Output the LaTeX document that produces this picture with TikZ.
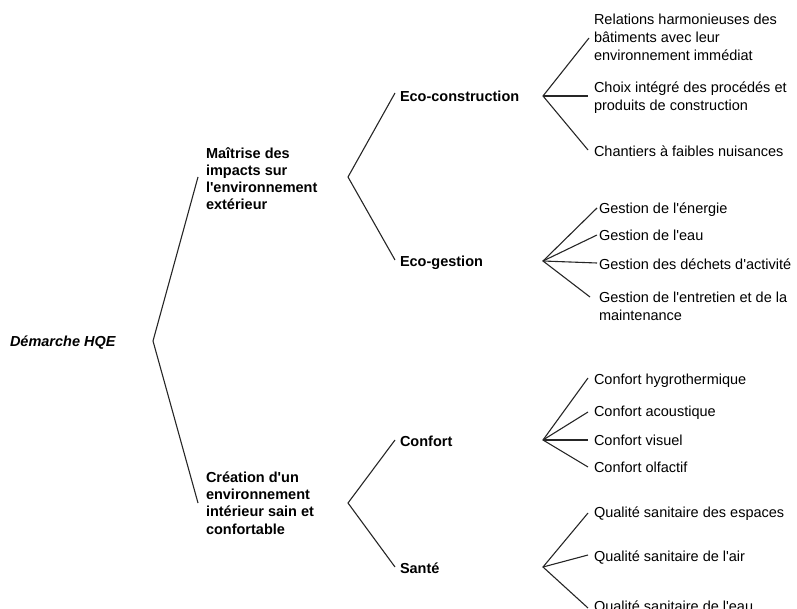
\documentclass[tikz,border=0pt]{standalone}
\usepackage{fontspec}
\setmainfont{Liberation Sans}
\newcommand\ap{\textquotesingle}
\tikzset{
  txt/.style={inner sep=0pt, outer sep=0pt, anchor=base west, align=left,
    font=\fontsize{14.5}{18}\selectfont},
  bld/.style={txt, font=\fontsize{14.5}{17.3}\selectfont\bfseries},
  rootstyle/.style={txt, font=\fontsize{14.5}{17.3}\selectfont\bfseries\itshape},
  conn/.style={draw=black!85, line width=1.1pt, line join=miter}
}
\begin{document}
\begin{tikzpicture}[x=1pt,y=-1pt]
\useasboundingbox (0,0) rectangle (797,609);
% texts (anchor = baseline of the last line)
\node[rootstyle] (root) at (10,346) {Démarche HQE};
\node[bld] (mai) at (206,210) {Maîtrise des\\impacts sur\\l\ap environnement\\extérieur};
\node[bld] (cre) at (206,534) {Création d\ap un\\environnement\\intérieur sain et\\confortable};
\node[bld] (ecoc) at (400,102) {Eco-construction};
\node[bld] (ecog) at (400,267) {Eco-gestion};
\node[bld] (conf) at (400,446) {Confort};
\node[bld] (sant) at (400,573) {Santé};
\node[txt] (l1) at (594,61) {Relations harmonieuses des\\bâtiments avec leur\\environnement immédiat};
\node[txt] (l2) at (594,111) {Choix intégré des procédés et\\produits de construction};
\node[txt] (l3) at (594,157) {Chantiers à faibles nuisances};
\node[txt] (l4) at (599,214) {Gestion de l\ap énergie};
\node[txt] (l5) at (599,241) {Gestion de l\ap eau};
\node[txt] (l6) at (599,270) {Gestion des déchets d\ap activité};
\node[txt] (l7) at (599,320) {Gestion de l\ap entretien et de la\\maintenance};
\node[txt] (l8) at (594,384) {Confort hygrothermique};
\node[txt] (l9) at (594,416) {Confort acoustique};
\node[txt] (l10) at (594,445) {Confort visuel};
\node[txt] (l11) at (594,472) {Confort olfactif};
\node[txt] (l12) at (594,517) {Qualité sanitaire des espaces};
\node[txt] (l13) at (594,561) {Qualité sanitaire de l\ap air};
\node[txt] (l14) at (594,611) {Qualité sanitaire de l\ap eau};
% bracket coordinates
\coordinate (v0) at (153,341);
\coordinate (a1) at (198,177);
\coordinate (a2) at (198,503);
\coordinate (v1) at (348,177);
\coordinate (b1) at (395,93);
\coordinate (b2) at (395,260);
\coordinate (v2) at (348,503);
\coordinate (b3) at (395,440);
\coordinate (b4) at (395,567);
\coordinate (v3) at (543,96);
\coordinate (c1) at (589,38);
\coordinate (c2) at (588,96);
\coordinate (c3) at (588,150);
\coordinate (v4) at (543,261);
\coordinate (d1) at (597,208);
\coordinate (d2) at (597,235);
\coordinate (d3) at (597,263);
\coordinate (d4) at (590,297);
\coordinate (v5) at (543,440);
\coordinate (e1) at (588,378);
\coordinate (e2) at (588,412);
\coordinate (e3) at (588,440);
\coordinate (e4) at (588,467);
\coordinate (v6) at (543,567);
\coordinate (f1) at (588,513);
\coordinate (f2) at (588,555);
\coordinate (f3) at (588,608);
% connectors
\draw[conn] (a1) -- (v0) -- (a2);
\draw[conn] (b1) -- (v1) -- (b2);
\draw[conn] (b3) -- (v2) -- (b4);
\draw[conn] (c1) -- (v3) -- (c3);
\draw[conn] (v3) -- (c2);
\draw[conn] (d1) -- (v4) -- (d4);
\draw[conn] (v4) -- (d2);
\draw[conn] (v4) -- (d3);
\draw[conn] (e1) -- (v5) -- (e4);
\draw[conn] (v5) -- (e2);
\draw[conn] (v5) -- (e3);
\draw[conn] (f1) -- (v6) -- (f3);
\draw[conn] (v6) -- (f2);
\end{tikzpicture}
\end{document}
